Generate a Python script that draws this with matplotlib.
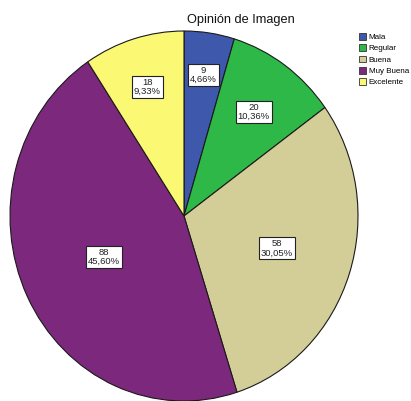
import matplotlib
matplotlib.use("Agg")
import matplotlib.pyplot as plt
import numpy as np

categories = ["Mala", "Regular", "Buena", "Muy Buena", "Excelente"]
counts = [9, 20, 58, 88, 18]
percent_labels = ["4,66%", "10,36%", "30,05%", "45,60%", "9,33%"]
colors = ["#3E58AC", "#2EB848", "#D3CE97", "#7C287D", "#FBF873"]
label_dist = [0.77, 0.69, 0.56, 0.51, 0.73]
title = "Opinión de Imagen"

plt.rcParams['font.family'] = ['Liberation Sans', 'DejaVu Sans']

W, H = 411, 401
fig = plt.figure(figsize=(W / 100, H / 100), dpi=100)
cx, cy, rx, ry = 184, 216, 174, 185
ax = fig.add_axes([(cx - rx) / W, (H - cy - ry) / H, 2 * rx / W, 2 * ry / H])

wedges, _ = ax.pie(counts, colors=colors, startangle=90, counterclock=False,
                   wedgeprops=dict(edgecolor="#1a1a1a", linewidth=0.8))
ax.set_aspect('auto')
ax.set_xlim(-1, 1)
ax.set_ylim(-1, 1)
ax.axis('off')

for w, n, p, d in zip(wedges, counts, percent_labels, label_dist):
    ang = np.deg2rad((w.theta1 + w.theta2) / 2)
    ax.text(d * np.cos(ang), d * np.sin(ang), f"{n}\n{p}", ha='center', va='center',
            fontsize=6.8, linespacing=1.05, color='#222222',
            bbox=dict(boxstyle='square,pad=0.2', facecolor='white',
                      edgecolor='#222222', linewidth=0.8))

fig.text(241 / W, 1 - 20 / H, title, ha='center', va='center', fontsize=9.2, color='#111111')

leg = fig.legend(wedges, categories, loc='upper left',
                 bbox_to_anchor=(359 / W, 1 - 33 / H), frameon=False,
                 fontsize=5.8, handlelength=0.9, handleheight=0.9,
                 handletextpad=0.3, labelspacing=0.4, borderpad=0, borderaxespad=0)
for h in leg.legend_handles:
    h.set_edgecolor('#333333')
    h.set_linewidth(0.6)

fig.savefig("out.png", dpi=100)
